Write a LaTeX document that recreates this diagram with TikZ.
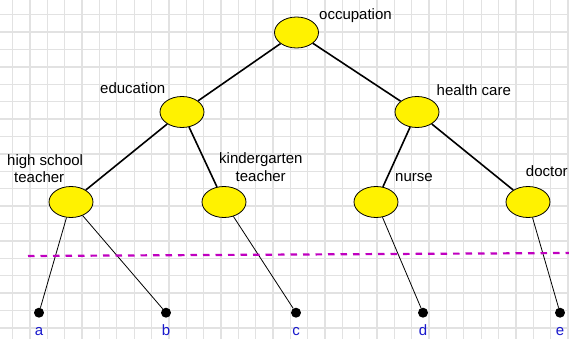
\documentclass[tikz,border=0pt]{standalone}
\usepackage{fontspec}
\setmainfont{Liberation Sans}
\usetikzlibrary{shapes.geometric}
\definecolor{gridcol}{RGB}{226,226,226}
\definecolor{cutcol}{RGB}{192,0,192}
\definecolor{leafblue}{RGB}{25,25,205}
\begin{document}
\begin{tikzpicture}[x=1pt,y=-1pt,
  cat/.style={ellipse,draw=black,line width=0.8pt,fill=yellow,minimum width=44pt,minimum height=31pt,inner sep=0pt},
  leaf/.style={circle,fill=black,minimum size=10pt,inner sep=0pt},
  lbl/.style={anchor=base west,inner sep=0pt,font=\fontsize{15}{17.5}\selectfont},
  leaflbl/.style={anchor=base,inner sep=0pt,text=leafblue,font=\fontsize{15}{17.5}\selectfont},
  tree/.style={line width=1.6pt},
  twig/.style={line width=0.8pt},
  cut/.style={draw=cutcol,line width=2.2pt,dash pattern=on 6.5pt off 6pt},
  gridline/.style={draw=gridcol,line width=1.3pt}]
\useasboundingbox (0,0) rectangle (569,339);
\fill[white] (0,0) rectangle (569,339);
% grid
\foreach \i in {0,...,32} {\draw[gridline] ({12.7+17.35*\i},0) -- ({12.7+17.35*\i},339);}
\foreach \j in {0,...,18} {\draw[gridline] (0,{14.7+17.4*\j}) -- (569,{14.7+17.4*\j});}
% nodes
\node[cat] (occ) at (296.5,32.5) {};
\node[cat] (edu) at (182,112) {};
\node[cat] (hc) at (417,112) {};
\node[cat] (hst) at (71,202) {};
\node[cat] (kt) at (224,202) {};
\node[cat] (nur) at (376,202) {};
\node[cat] (doc) at (528,202) {};
\node[leaf] (a) at (39,312.7) {};
\node[leaf] (b) at (166,312.7) {};
\node[leaf] (c) at (296,312.7) {};
\node[leaf] (d) at (423,312.7) {};
\node[leaf] (e) at (560,312.7) {};
% tree edges
\draw[tree] (occ) -- (edu);
\draw[tree] (occ) -- (hc);
\draw[tree] (edu) -- (hst);
\draw[tree] (edu) -- (kt);
\draw[tree] (hc) -- (nur);
\draw[tree] (hc) -- (doc);
\draw[twig] (hst) -- (a);
\draw[twig] (hst) -- (b);
\draw[twig] (kt) -- (c);
\draw[twig] (nur) -- (d);
\draw[twig] (doc) -- (e);
% cut line
\coordinate (cutL) at (28,256);
\coordinate (cutR) at (569,253);
\draw[cut] (cutL) -- (cutR);
% labels
\node[lbl] (locc) at (319,20) {occupation};
\node[lbl] (ledu) at (100,93.3) {education};
\node[lbl] (lhc) at (436.5,96) {health care};
\node[lbl] (lhs1) at (7,165) {high school};
\node[lbl] (lhs2) at (14,182.5) {teacher};
\node[lbl] (lkt1) at (219,164) {kindergarten};
\node[lbl] (lkt2) at (235.5,181.7) {teacher};
\node[lbl] (lnur) at (395,181.7) {nurse};
\node[lbl] (ldoc) at (525.7,176) {doctor};
\node[leaflbl] (la) at (39,335) {a};
\node[leaflbl] (lb) at (166,335) {b};
\node[leaflbl] (lc) at (296,335) {c};
\node[leaflbl] (ld) at (423,335) {d};
\node[leaflbl] (le) at (560,335) {e};
\end{tikzpicture}
\end{document}
